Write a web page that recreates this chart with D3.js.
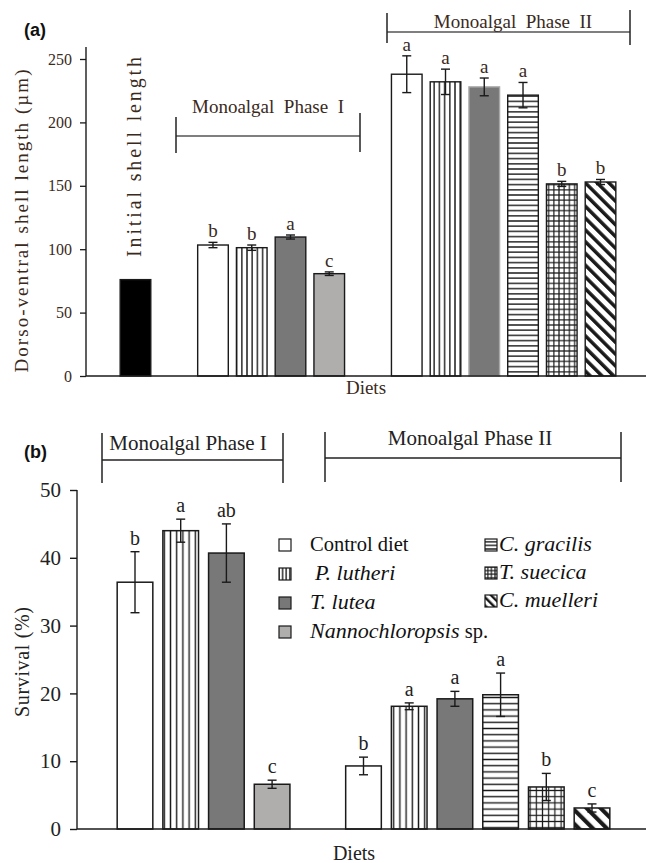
<!DOCTYPE html>
<html><head><meta charset="utf-8">
<script src="https://cdn.jsdelivr.net/npm/d3@7"></script>
<style>
body{margin:0;background:#fff;}
svg{display:block;}
text{font-family:"Liberation Serif","Times New Roman",serif;}
text.panel{font-family:"Liberation Sans",Arial,sans-serif;font-weight:bold;}
</style></head>
<body>
<svg id="chart" width="646" height="863"></svg>
<script>
// ---------- DATA ----------
const legendDiets = ["Control diet","P. lutheri","T. lutea","Nannochloropsis sp.","C. gracilis","T. suecica","C. muelleri"];
const phase1Diets = ["Control diet","P. lutheri","T. lutea","Nannochloropsis sp."];
const phase2Diets = ["Control diet","P. lutheri","T. lutea","C. gracilis","T. suecica","C. muelleri"];

const lengthInitial = 76;
const lengthPhase1 = [103.3, 101.2, 109.6, 80.7];
const lengthPhase1Err = [2.1, 2.1, 1.6, 1.4];
const lengthPhase1Letters = ["b","b","a","c"];
const lengthPhase2 = [238, 232, 228, 221.5, 151.5, 153];
const lengthPhase2Err = [14.5, 10, 7, 10, 2, 2];
const lengthPhase2Letters = ["a","a","a","a","b","b"];
const lengthTicks = [0,50,100,150,200,250];

const survivalPhase1 = [36.4, 44.0, 40.7, 6.6];
const survivalPhase1Err = [4.5, 1.7, 4.3, 0.6];
const survivalPhase1Letters = ["b","a","ab","c"];
const survivalPhase2 = [9.3, 18.1, 19.2, 19.8, 6.2, 3.1];
const survivalPhase2Err = [1.3, 0.5, 1.1, 3.2, 2.0, 0.6];
const survivalPhase2Letters = ["b","a","a","a","b","c"];
const survivalTicks = [0,10,20,30,40,50];

// ---------- SETUP ----------
const svg = d3.select("#chart");
const defs = svg.append("defs");
const INK = "#1a1a1a";
const TXT_A = "#3a2a1c";

function makePatterns(prefix, sp){
  let p = defs.append("pattern").attr("id",prefix+"-vert").attr("patternUnits","userSpaceOnUse").attr("width",sp).attr("height",sp);
  p.append("rect").attr("width",sp).attr("height",sp).attr("fill","#fff");
  p.append("rect").attr("x",sp/2-0.7).attr("width",1.4).attr("height",sp).attr("fill",INK);
  p = defs.append("pattern").attr("id",prefix+"-horiz").attr("patternUnits","userSpaceOnUse").attr("width",sp).attr("height",sp);
  p.append("rect").attr("width",sp).attr("height",sp).attr("fill","#fff");
  p.append("rect").attr("y",sp/2-0.7).attr("height",1.4).attr("width",sp).attr("fill",INK);
  p = defs.append("pattern").attr("id",prefix+"-grid").attr("patternUnits","userSpaceOnUse").attr("width",sp).attr("height",sp);
  p.append("rect").attr("width",sp).attr("height",sp).attr("fill","#fff");
  p.append("rect").attr("y",sp/2-0.6).attr("height",1.2).attr("width",sp).attr("fill",INK);
  p.append("rect").attr("x",sp/2-0.6).attr("width",1.2).attr("height",sp).attr("fill",INK);
  const dsp = sp*1.6;
  p = defs.append("pattern").attr("id",prefix+"-diag").attr("patternUnits","userSpaceOnUse").attr("width",dsp).attr("height",dsp).attr("patternTransform","rotate(-45)");
  p.append("rect").attr("width",dsp).attr("height",dsp).attr("fill","#fff");
  p.append("rect").attr("x",0).attr("width",dsp*0.42).attr("height",dsp).attr("fill",INK);
}
makePatterns("a",5.2);
makePatterns("b",6.2);
makePatterns("l",3.6);

function fillFor(prefix, diet){
  switch(diet){
    case "Control diet": return "#fff";
    case "P. lutheri": return `url(#${prefix}-vert)`;
    case "T. lutea": return "#787878";
    case "Nannochloropsis sp.": return "#b0adad";
    case "C. gracilis": return `url(#${prefix}-horiz)`;
    case "T. suecica": return `url(#${prefix}-grid)`;
    case "C. muelleri": return `url(#${prefix}-diag)`;
  }
}

// ---------- CHART (a) ----------
{
  const slotsA = ["Initial","gapA1", ...phase1Diets.map(d=>"I|"+d), "gapA2", ...phase2Diets.map(d=>"II|"+d)];
  const x = d3.scaleBand().domain(slotsA).range([116.1, 619.9]).paddingInner(0.21).paddingOuter(0.105);
  const y = d3.scaleLinear().domain([0,250]).range([376,59]);
  const g = svg.append("g");

  const rows = [{key:"Initial", diet:null, v:lengthInitial, e:0, l:""}]
    .concat(phase1Diets.map((d,i)=>({key:"I|"+d, diet:d, v:lengthPhase1[i], e:lengthPhase1Err[i], l:lengthPhase1Letters[i]})))
    .concat(phase2Diets.map((d,i)=>({key:"II|"+d, diet:d, v:lengthPhase2[i], e:lengthPhase2Err[i], l:lengthPhase2Letters[i]})));

  g.selectAll("rect.bar").data(rows).join("rect").attr("class","bar")
    .attr("x",d=>x(d.key)).attr("width",x.bandwidth())
    .attr("y",d=>y(d.v)).attr("height",d=>y(0)-y(d.v))
    .attr("fill",d=>d.diet? fillFor("a",d.diet) : "#000")
    .attr("stroke",d=>d.key==="II|T. lutea" ? "#a8a8a8" : INK).attr("stroke-width",1.4);

  const eb = rows.filter(d=>d.e>0);
  const cx = d=>x(d.key)+x.bandwidth()/2;
  g.selectAll("line.err").data(eb).join("line").attr("x1",cx).attr("x2",cx)
    .attr("y1",d=>y(d.v+d.e)).attr("y2",d=>y(d.v-d.e)).attr("stroke",INK).attr("stroke-width",1.4);
  ["+","-"].forEach(s=>{
    g.selectAll("line.cap"+(s==="+"?"t":"b")).data(eb).join("line")
      .attr("x1",d=>cx(d)-4.5).attr("x2",d=>cx(d)+4.5)
      .attr("y1",d=>y(s==="+"?d.v+d.e:d.v-d.e)).attr("y2",d=>y(s==="+"?d.v+d.e:d.v-d.e))
      .attr("stroke",INK).attr("stroke-width",1.4);
  });
  g.selectAll("text.let").data(eb).join("text").attr("x",cx).attr("y",d=>y(d.v+d.e)-5)
    .attr("text-anchor","middle").attr("font-size",19).attr("fill",TXT_A).text(d=>d.l);

  const ax = g.append("g").attr("transform","translate(86,0)")
    .call(d3.axisLeft(y).tickValues(lengthTicks).tickSize(6).tickPadding(8));
  ax.select(".domain").remove();
  ax.selectAll("line").attr("stroke",INK).attr("stroke-width",1.3);
  ax.selectAll("text").attr("font-size",16).attr("fill",TXT_A);
  g.append("line").attr("x1",86).attr("x2",86).attr("y1",47).attr("y2",y(0)).attr("stroke",INK).attr("stroke-width",1.4);
  g.append("line").attr("x1",86).attr("x2",646).attr("y1",y(0)).attr("y2",y(0)).attr("stroke",INK).attr("stroke-width",1.4);

  g.append("text").attr("x",366).attr("y",394).attr("text-anchor","middle").attr("font-size",19).attr("fill",TXT_A).text("Diets");
  g.append("text").attr("transform","translate(28,221) rotate(-90)").attr("text-anchor","middle")
    .attr("font-size",19).attr("fill",TXT_A).attr("textLength",303).attr("lengthAdjust","spacing")
    .text("Dorso-ventral  shell  length  (\u00b5m)");
  g.append("text").attr("transform",`translate(${x("Initial")+x.bandwidth()/2+6},157) rotate(-90)`).attr("text-anchor","middle")
    .attr("font-size",20).attr("fill",TXT_A).attr("textLength",200).attr("lengthAdjust","spacing")
    .text("Initial  shell  length");

  const br = (x1,x2,yh,t1,b1,t2,b2,label,ty,tx)=>{
    g.append("line").attr("x1",x1).attr("x2",x2).attr("y1",yh).attr("y2",yh).attr("stroke","#555").attr("stroke-width",1.5);
    g.append("line").attr("x1",x1).attr("x2",x1).attr("y1",t1).attr("y2",b1).attr("stroke","#222").attr("stroke-width",1.5);
    g.append("line").attr("x1",x2).attr("x2",x2).attr("y1",t2).attr("y2",b2).attr("stroke","#222").attr("stroke-width",1.5);
    g.append("text").attr("x",tx).attr("y",ty).attr("text-anchor","middle").attr("font-size",19).attr("fill",TXT_A)
      .attr("xml:space","preserve").style("white-space","pre").text(label);
  };
  br(176,360,136,117,153,113,152,"Monoalgal  Phase  I",113,268);
  br(387,630,32,13,43,10,45,"Monoalgal  Phase  II",28,513);

  svg.append("text").attr("class","panel").attr("x",24).attr("y",36).attr("font-size",18).attr("fill","#111").text("(a)");
}

// ---------- CHART (b) ----------
{
  const slotsB = [...phase1Diets.map(d=>"I|"+d), "gapB", ...phase2Diets.map(d=>"II|"+d)];
  const x = d3.scaleBand().domain(slotsB).range([112.15, 614.85]).paddingInner(0.22).paddingOuter(0.11);
  const y = d3.scaleLinear().domain([0,50]).range([829,490]);
  const g = svg.append("g");
  const rows = phase1Diets.map((d,i)=>({key:"I|"+d, diet:d, v:survivalPhase1[i], e:survivalPhase1Err[i], l:survivalPhase1Letters[i]}))
    .concat(phase2Diets.map((d,i)=>({key:"II|"+d, diet:d, v:survivalPhase2[i], e:survivalPhase2Err[i], l:survivalPhase2Letters[i]})));

  g.selectAll("rect.bar").data(rows).join("rect").attr("class","bar")
    .attr("x",d=>x(d.key)).attr("width",x.bandwidth())
    .attr("y",d=>y(d.v)).attr("height",d=>y(0)-y(d.v))
    .attr("fill",d=>fillFor("b",d.diet)).attr("stroke",INK).attr("stroke-width",1.5);
  const cx = d=>x(d.key)+x.bandwidth()/2;
  g.selectAll("line.err").data(rows).join("line").attr("x1",cx).attr("x2",cx)
    .attr("y1",d=>y(d.v+d.e)).attr("y2",d=>y(d.v-d.e)).attr("stroke",INK).attr("stroke-width",1.4);
  ["t","b"].forEach(s=>{
    g.selectAll("line.cap"+s).data(rows).join("line")
      .attr("x1",d=>cx(d)-4.5).attr("x2",d=>cx(d)+4.5)
      .attr("y1",d=>y(s==="t"?d.v+d.e:d.v-d.e)).attr("y2",d=>y(s==="t"?d.v+d.e:d.v-d.e))
      .attr("stroke",INK).attr("stroke-width",1.4);
  });
  g.selectAll("text.let").data(rows).join("text").attr("x",cx).attr("y",d=>y(d.v+d.e)-7)
    .attr("text-anchor","middle").attr("font-size",20).attr("fill","#222").text(d=>d.l);

  const ax = g.append("g").attr("transform","translate(77,0)")
    .call(d3.axisLeft(y).tickValues(survivalTicks).tickSize(7).tickPadding(9));
  ax.select(".domain").remove();
  ax.selectAll("line").attr("stroke",INK).attr("stroke-width",1.4);
  ax.selectAll("text").attr("font-size",21).attr("fill","#222");
  g.append("line").attr("x1",77).attr("x2",77).attr("y1",490).attr("y2",y(0)).attr("stroke",INK).attr("stroke-width",1.4);
  g.append("line").attr("x1",77).attr("x2",646).attr("y1",y(0)).attr("y2",y(0)).attr("stroke",INK).attr("stroke-width",1.4);

  g.append("text").attr("x",354).attr("y",860).attr("text-anchor","middle").attr("font-size",20).attr("fill","#222").text("Diets");
  g.append("text").attr("transform","translate(29,662) rotate(-90)").attr("text-anchor","middle")
    .attr("font-size",20).attr("fill","#222").attr("textLength",110).attr("lengthAdjust","spacing").text("Survival  (%)");

  const br = (x1,x2,yh,t,b,label,ty,tx)=>{
    g.append("line").attr("x1",x1).attr("x2",x2).attr("y1",yh).attr("y2",yh).attr("stroke","#222").attr("stroke-width",1.5);
    g.append("line").attr("x1",x1).attr("x2",x1).attr("y1",t).attr("y2",b).attr("stroke","#222").attr("stroke-width",1.5);
    g.append("line").attr("x1",x2).attr("x2",x2).attr("y1",t).attr("y2",b).attr("stroke","#222").attr("stroke-width",1.5);
    g.append("text").attr("x",tx).attr("y",ty).attr("text-anchor","middle").attr("font-size",21).attr("fill","#222").text(label);
  };
  br(102,283,460,433,483,"Monoalgal Phase I",450,188);
  br(325,621,458,432,482,"Monoalgal Phase II",445,470);

  svg.append("text").attr("class","panel").attr("x",24).attr("y",458).attr("font-size",18).attr("fill","#111").text("(b)");

  // legend
  const col1 = legendDiets.slice(0,4), col2 = legendDiets.slice(4);
  const lg = svg.append("g");
  const addItem = (diet, sx, tx, yc)=>{
    lg.append("rect").attr("x",sx).attr("y",yc-6).attr("width",12).attr("height",12)
      .attr("fill",fillFor("l",diet)).attr("stroke",INK).attr("stroke-width",1.2);
    const t = lg.append("text").attr("x",tx).attr("y",yc+6).attr("font-size",20.5).attr("fill","#111");
    if(diet==="Control diet"){ t.text(diet); }
    else if(diet==="Nannochloropsis sp."){ t.append("tspan").attr("font-style","italic").attr("font-size",22).text("Nannochloropsis"); t.append("tspan").text(" sp."); }
    else { t.attr("font-style","italic").attr("font-size",22).text(diet); }
  };
  col1.forEach((d,i)=>addItem(d, 279, d==="P. lutheri"?315:310, 545+29*i));
  col2.forEach((d,i)=>addItem(d, 485, 499, 545+28*i));
}
</script>
</body></html>
